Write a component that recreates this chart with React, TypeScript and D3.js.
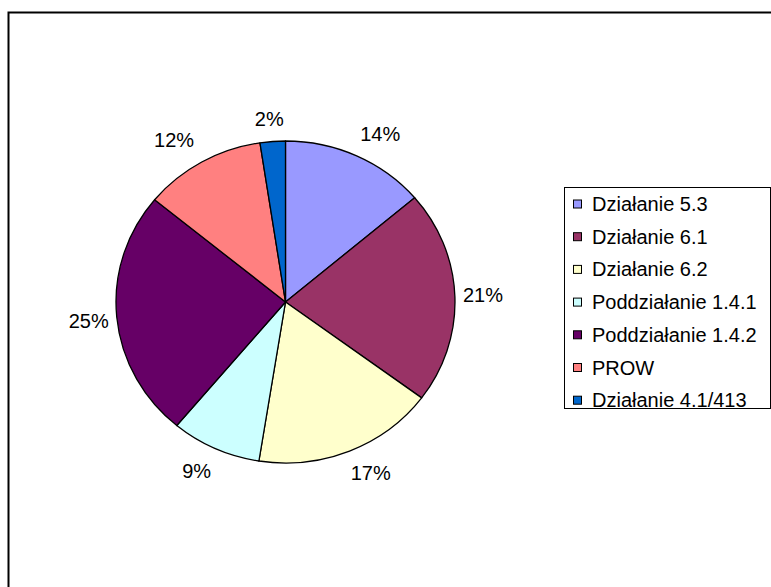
import React, { useEffect, useRef } from "react";
import * as d3 from "d3";

// slice data (clockwise from 12 o'clock)
const categories = [
  "Działanie 5.3",
  "Działanie 6.1",
  "Działanie 6.2",
  "Poddziałanie 1.4.1",
  "Poddziałanie 1.4.2",
  "PROW",
  "Działanie 4.1/413",
];
const values = [13.75, 21.3, 17.3, 8.55, 24.8, 11.6, 2.4];
const colors = ["#9999FF", "#993366", "#FFFFCC", "#CCFFFF", "#660066", "#FF8080", "#0066CC"];

const W = 771,
  H = 587;
const cx = 285.5,
  cy = 302,
  rx = 169.5,
  ry = 161;
const font = "Arial, 'Liberation Sans', sans-serif";

const App: React.FC = () => {
  const ref = useRef<SVGSVGElement | null>(null);

  useEffect(() => {
    const svg = d3.select(ref.current);
    svg.selectAll("*").remove();

    // outer frame (right / bottom edges fall outside the picture)
    svg
      .append("rect")
      .attr("x", 8.5)
      .attr("y", 12.5)
      .attr("width", W + 20)
      .attr("height", H + 20)
      .attr("fill", "none")
      .attr("stroke", "#000")
      .attr("stroke-width", 2);

    const total = d3.sum(values);
    const pie = d3
      .pie<number>()
      .sort(null)
      .value((d) => d);
    const arcs = pie(values);
    const arc = d3.arc<d3.PieArcDatum<number>>().innerRadius(0).outerRadius(ry);

    const g = svg
      .append("g")
      .attr("transform", `translate(${cx},${cy}) scale(${rx / ry},1)`);
    g.selectAll("path")
      .data(arcs)
      .join("path")
      .attr("d", arc)
      .attr("fill", (_, i) => colors[i])
      .attr("stroke", "#000")
      .attr("stroke-width", 1.3)
      .attr("stroke-linejoin", "round")
      .attr("vector-effect", "non-scaling-stroke");

    // percent labels, placed just outside the rim
    const clamp = (v: number) => Math.max(-1, Math.min(1, v));
    arcs.forEach((a) => {
      const label = Math.round((a.value / total) * 100) + "%";
      const mid = (a.startAngle + a.endAngle) / 2;
      const s = Math.sin(mid),
        c = Math.cos(mid);
      const ex = cx + rx * s,
        ey = cy - ry * c;
      const w = label.length === 2 ? 29 : 40;
      const lx = ex + (8 + w / 2) * clamp(s * 2);
      const ly = ey - 22 * clamp(c * 2);
      svg
        .append("text")
        .attr("x", lx)
        .attr("y", ly)
        .attr("dy", "0.35em")
        .attr("text-anchor", "middle")
        .attr("font-family", font)
        .attr("font-size", 20)
        .attr("fill", "#000")
        .text(label);
    });

    // legend
    const lg = svg.append("g");
    lg.append("rect")
      .attr("x", 564.5)
      .attr("y", 187.5)
      .attr("width", 206)
      .attr("height", 221)
      .attr("fill", "#fff")
      .attr("stroke", "#000")
      .attr("stroke-width", 1);

    const ly = d3
      .scalePoint<string>()
      .domain(categories)
      .range([204, 204 + 32.7 * (categories.length - 1)]);

    categories.forEach((name, i) => {
      const y = ly(name)!;
      lg.append("rect")
        .attr("x", 573.5)
        .attr("y", y - 4)
        .attr("width", 8)
        .attr("height", 8)
        .attr("fill", colors[i])
        .attr("stroke", "#000")
        .attr("stroke-width", 1);
      lg.append("text")
        .attr("x", 592)
        .attr("y", y)
        .attr("dy", "0.35em")
        .attr("font-family", font)
        .attr("font-size", 20)
        .attr("fill", "#000")
        .text(name);
    });
  }, []);

  return (
    <div style={{ position: "fixed", left: 0, top: 0, width: W, height: H, background: "#fff" }}>
      <svg ref={ref} width={W} height={H} style={{ display: "block" }}></svg>
    </div>
  );
};

export default App;
